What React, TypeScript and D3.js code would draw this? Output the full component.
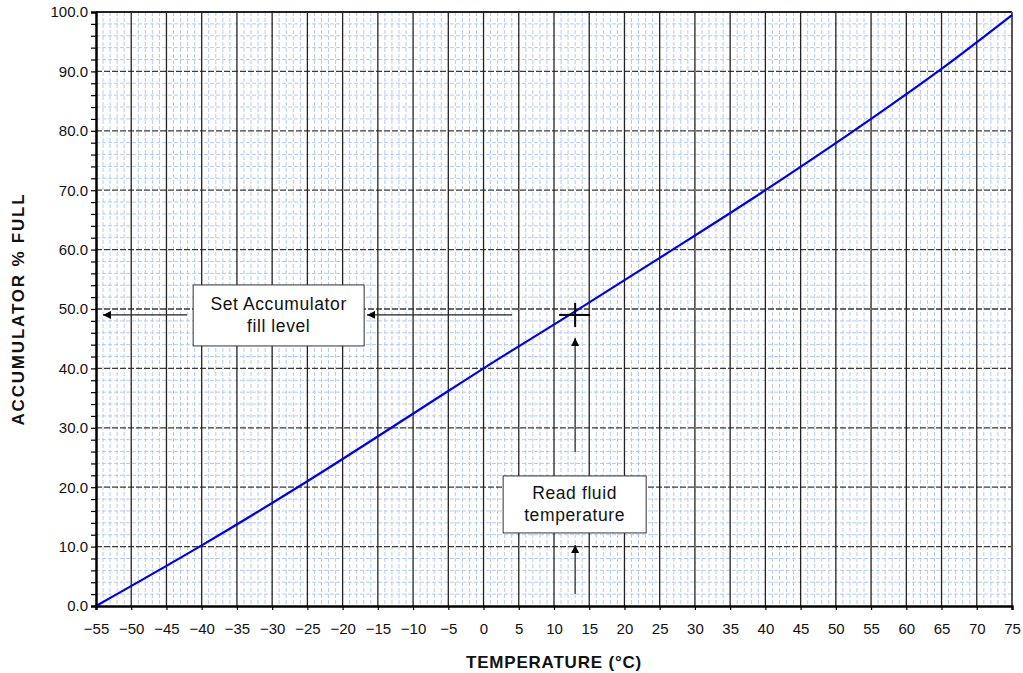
import { useEffect, useRef } from 'react'
import * as d3 from 'd3'

// curve
const tempC = [-55, -40, -25, -5, 0, 13, 25, 40, 55, 64.5, 75]
const pctFull = [0, 10.2, 21, 36.2, 40, 49.6, 58.6, 70, 82, 90, 99.5]

const xTicks = d3.range(-55, 76, 5)
const yTicks = d3.range(0, 101, 10)
const xMinor = d3.range(-55, 76, 1)
const yMinor = d3.range(0, 101, 2)

const readPoint = { t: 13, p: 49 }

const W = 1023
const H = 673
const margin = { top: 12, right: 11, bottom: 67, left: 96 }
const FONT = 'Arial, "Liberation Sans", sans-serif'

function render(el: SVGSVGElement) {
  const inner = { w: W - margin.left - margin.right, h: H - margin.top - margin.bottom }
  const svg = d3.select(el).attr('width', W).attr('height', H).style('font-family', FONT)

  const x = d3.scaleLinear().domain([-55, 75]).range([0, inner.w])
  const y = d3.scaleLinear().domain([0, 100]).range([inner.h, 0])

  const defs = svg.append('defs')
  defs.append('marker')
    .attr('id', 'arrow')
    .attr('viewBox', '0 0 10 10')
    .attr('refX', 10)
    .attr('refY', 5)
    .attr('markerWidth', 8)
    .attr('markerHeight', 8)
    .attr('markerUnits', 'userSpaceOnUse')
    .attr('orient', 'auto')
    .append('path')
    .attr('d', 'M0,0 L10,5 L0,10 Z')
    .attr('fill', '#000')

  const g = svg.append('g').attr('transform', `translate(${margin.left},${margin.top})`)

  // minor grid
  g.append('g').selectAll('line').data(xMinor.filter((v) => v % 5 !== 0)).join('line')
    .attr('x1', (d) => x(d)).attr('x2', (d) => x(d))
    .attr('y1', 0).attr('y2', inner.h)
    .attr('stroke', '#b4cbf0').attr('stroke-width', 1).attr('stroke-dasharray', '4,2')
  g.append('g').selectAll('line').data(yMinor.filter((v) => v % 10 !== 0)).join('line')
    .attr('x1', 0).attr('x2', inner.w)
    .attr('y1', (d) => y(d)).attr('y2', (d) => y(d))
    .attr('stroke', '#b4cbf0').attr('stroke-width', 1).attr('stroke-dasharray', '4,2')

  // major grid
  g.append('g').selectAll('line').data(yTicks.slice(1, -1)).join('line')
    .attr('x1', 0).attr('x2', inner.w)
    .attr('y1', (d) => y(d)).attr('y2', (d) => y(d))
    .attr('stroke', '#3a3a3a').attr('stroke-width', 1.3).attr('stroke-dasharray', '6,2')
  g.append('g').selectAll('line').data(xTicks.slice(1, -1)).join('line')
    .attr('x1', (d) => x(d)).attr('x2', (d) => x(d))
    .attr('y1', 0).attr('y2', inner.h)
    .attr('stroke', '#222').attr('stroke-width', 1.3)

  // frame
  g.append('line').attr('x1', 0).attr('x2', inner.w).attr('y1', 0).attr('y2', 0)
    .attr('stroke', '#222').attr('stroke-width', 2)
  g.append('line').attr('x1', inner.w).attr('x2', inner.w).attr('y1', 0).attr('y2', inner.h)
    .attr('stroke', '#555').attr('stroke-width', 2)

  // curve
  const pts = tempC.map((t, i) => [t, pctFull[i]] as [number, number])
  g.append('path')
    .datum(pts)
    .attr('d', d3.line<[number, number]>().x((d) => x(d[0])).y((d) => y(d[1])).curve(d3.curveMonotoneX))
    .attr('fill', 'none')
    .attr('stroke', '#0000f0')
    .attr('stroke-width', 2.2)

  // y axis
  g.append('g')
    .call(d3.axisLeft(y).tickValues(yMinor).tickSize(5).tickFormat((v) => (+v % 10 === 0 ? d3.format('.1f')(+v) : '')))
    .call((sel) => sel.select('.domain').attr('stroke', '#000').attr('stroke-width', 2.5))
    .call((sel) => sel.selectAll('line').attr('stroke', '#000').attr('stroke-width', 1.2))
    .call((sel) => sel.selectAll('text').attr('font-size', 15).attr('fill', '#111').attr('font-family', FONT).attr('x', -8))

  // x axis
  g.append('g')
    .attr('transform', `translate(0,${inner.h})`)
    .call(d3.axisBottom(x).tickValues(xTicks).tickSize(4).tickFormat(d3.format('d')))
    .call((sel) => sel.select('.domain').attr('stroke', '#000').attr('stroke-width', 2.5))
    .call((sel) => sel.selectAll('line').attr('stroke', '#000').attr('stroke-width', 1.2))
    .call((sel) => sel.selectAll('text').attr('font-size', 15).attr('fill', '#111').attr('font-family', FONT).attr('y', 17))

  // axis titles
  svg.append('text')
    .attr('x', margin.left + inner.w / 2)
    .attr('y', 668)
    .attr('text-anchor', 'middle')
    .attr('font-size', 17)
    .attr('font-weight', 'bold')
    .attr('letter-spacing', 0.8)
    .attr('fill', '#111')
    .text('TEMPERATURE (°C)')
  svg.append('text')
    .attr('transform', `translate(24,${margin.top + inner.h / 2}) rotate(-90)`)
    .attr('text-anchor', 'middle')
    .attr('font-size', 17)
    .attr('font-weight', 'bold')
    .attr('letter-spacing', 1.8)
    .attr('fill', '#111')
    .text('ACCUMULATOR % FULL')

  // crosshair at read point
  const cx = x(readPoint.t)
  const cy = y(readPoint.p)
  g.append('line').attr('x1', cx - 16).attr('x2', cx + 15).attr('y1', cy).attr('y2', cy)
    .attr('stroke', '#000').attr('stroke-width', 2)
  g.append('line').attr('x1', cx).attr('x2', cx).attr('y1', cy - 12).attr('y2', cy + 12)
    .attr('stroke', '#000').attr('stroke-width', 2)

  const arrow = (x1: number, y1: number, x2: number, y2: number) =>
    g.append('line').attr('x1', x1).attr('y1', y1).attr('x2', x2).attr('y2', y2)
      .attr('stroke', '#222').attr('stroke-width', 1.2).attr('marker-end', 'url(#arrow)')

  arrow(cx - 63, cy, cx - 208, cy)
  arrow(91, cy, 7, cy)
  arrow(cx, cy + 137, cx, cy + 23)
  arrow(cx, cy + 279, cx, cy + 230)

  const box = (bx: number, by: number, bw: number, bh: number, lines: string[]) => {
    g.append('rect').attr('x', bx).attr('y', by).attr('width', bw).attr('height', bh)
      .attr('fill', '#fff').attr('stroke', '#333').attr('stroke-width', 1)
    lines.forEach((l, i) => {
      g.append('text')
        .attr('x', bx + bw / 2)
        .attr('y', by + bh / 2 + (i - (lines.length - 1) / 2) * 22 + 6)
        .attr('text-anchor', 'middle')
        .attr('font-size', 17.5)
        .attr('letter-spacing', 0.6)
        .attr('fill', '#111')
        .text(l)
    })
  }
  box(cx - 382, cy - 30, 171, 61, ['Set Accumulator', 'fill level'])
  box(cx - 72, cy + 161, 143, 57, ['Read fluid', 'temperature'])
}

export default function App() {
  const ref = useRef<SVGSVGElement>(null)
  useEffect(() => {
    if (!ref.current) return
    d3.select(ref.current).selectAll('*').remove()
    render(ref.current)
  }, [])
  return (
    <svg
      ref={ref}
      style={{ position: 'absolute', left: 0, top: 0, display: 'block', background: '#fff' }}
    />
  )
}
